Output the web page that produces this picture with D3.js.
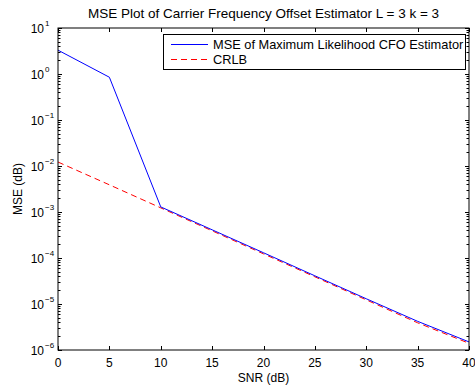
<!DOCTYPE html>
<html>
<head>
<meta charset="utf-8">
<script src="https://cdn.jsdelivr.net/npm/d3@7"></script>
<style>
  body { margin: 0; background: #fff; }
  svg { display: block; font-family: "Liberation Sans", Arial, sans-serif; }
  .tick-label { font-size: 12px; fill: #000; }
</style>
</head>
<body>
<svg id="chart" width="475" height="388"></svg>
<script>
// SNR points (dB)
const snr = [0, 5, 10, 15, 20, 25, 30, 35, 40];
// MSE of ML CFO estimator
const mseML = [3.3, 0.85, 1.29e-3, 4.1e-4, 1.3e-4, 4.1e-5, 1.3e-5, 4.2e-6, 1.5e-6];
// CRLB
const crlb = [1.22e-2, 3.9e-3, 1.23e-3, 3.9e-4, 1.23e-4, 3.9e-5, 1.23e-5, 3.9e-6, 1.4e-6];
const xTicks = [0, 5, 10, 15, 20, 25, 30, 35, 40];
const yExps = [1, 0, -1, -2, -3, -4, -5, -6];

const svg = d3.select('#chart');
const margin = { top: 28, left: 58, right: 6, bottom: 38 };
const innerW = 469 - margin.left;
const innerH = 350 - margin.top;

const x = d3.scaleLinear().domain([0, 40]).range([0, innerW]);
const y = d3.scaleLog().domain([1e-6, 10]).range([innerH, 0]);

const g = svg.append('g').attr('transform', `translate(${margin.left},${margin.top})`);

// series
const line = d3.line().x((d, i) => x(snr[i])).y(d => y(d));
g.append('path').datum(crlb)
  .attr('fill', 'none').attr('stroke', '#ff0000').attr('stroke-width', 1)
  .attr('stroke-dasharray', '6,4').attr('d', line);
g.append('path').datum(mseML)
  .attr('fill', 'none').attr('stroke', '#0000ff').attr('stroke-width', 1).attr('d', line);

// axes box
g.append('rect').attr('width', innerW).attr('height', innerH)
  .attr('fill', 'none').attr('stroke', '#000').attr('stroke-width', 1);

// x ticks (inward, top and bottom)
xTicks.forEach(t => {
  const px = Math.round(x(t)) + 0.5;
  g.append('line').attr('x1', px).attr('x2', px).attr('y1', innerH).attr('y2', innerH - 4).attr('stroke', '#000');
  g.append('line').attr('x1', px).attr('x2', px).attr('y1', 0).attr('y2', 4).attr('stroke', '#000');
  g.append('text').attr('class', 'tick-label').attr('x', x(t)).attr('y', innerH + 17)
    .attr('text-anchor', 'middle').text(t);
});

// y ticks: major and minor (log)
for (let e = -6; e <= 1; e++) {
  for (let m = 1; m <= 9; m++) {
    const v = m * Math.pow(10, e);
    if (e === 1 && m > 1) continue;
    const py = Math.round(y(v)) + 0.5;
    const len = m === 1 ? 4 : 2.5;
    g.append('line').attr('x1', 0).attr('x2', len).attr('y1', py).attr('y2', py).attr('stroke', '#000');
    g.append('line').attr('x1', innerW).attr('x2', innerW - len).attr('y1', py).attr('y2', py).attr('stroke', '#000');
  }
}
yExps.forEach(e => {
  g.append('text').attr('class', 'tick-label').attr('x', -14).attr('y', y(Math.pow(10, e)) + 5)
    .attr('text-anchor', 'end').text('10');
  const sup = e < 0 ? '\u2212' + (-e) : String(e);
  g.append('text').attr('class', 'tick-label').attr('x', -13).attr('y', y(Math.pow(10, e)) - 2)
    .style('font-size', '8px').text(sup);
});

// title and axis labels
svg.append('text').attr('x', margin.left + innerW / 2).attr('y', 18).attr('text-anchor', 'middle')
  .style('font-size', '13.5px').text('MSE Plot of Carrier Frequency Offset Estimator L = 3 k = 3');
svg.append('text').attr('x', margin.left + innerW / 2).attr('y', 382).attr('text-anchor', 'middle')
  .style('font-size', '12px').text('SNR (dB)');
svg.append('text').attr('transform', `translate(22,${margin.top + innerH / 2}) rotate(-90)`)
  .attr('text-anchor', 'middle').style('font-size', '12px').text('MSE (dB)');

// legend
const lg = svg.append('g').attr('transform', 'translate(163,34)');
lg.append('rect').attr('x', 0.5).attr('y', 0.5).attr('width', 302).attr('height', 35)
  .attr('fill', '#fff').attr('stroke', '#000');
const items = [
  { name: 'MSE of Maximum Likelihood CFO Estimator', color: '#0000ff', dash: null },
  { name: 'CRLB', color: '#ff0000', dash: '6,4' }
];
items.forEach((it, i) => {
  const yy = 10.5 + i * 15;
  lg.append('line').attr('x1', 8).attr('x2', 45).attr('y1', yy).attr('y2', yy)
    .attr('stroke', it.color).attr('stroke-dasharray', it.dash);
  lg.append('text').attr('x', 50).attr('y', yy + 4.5).style('font-size', '12.8px').text(it.name);
});
</script>
</body>
</html>
